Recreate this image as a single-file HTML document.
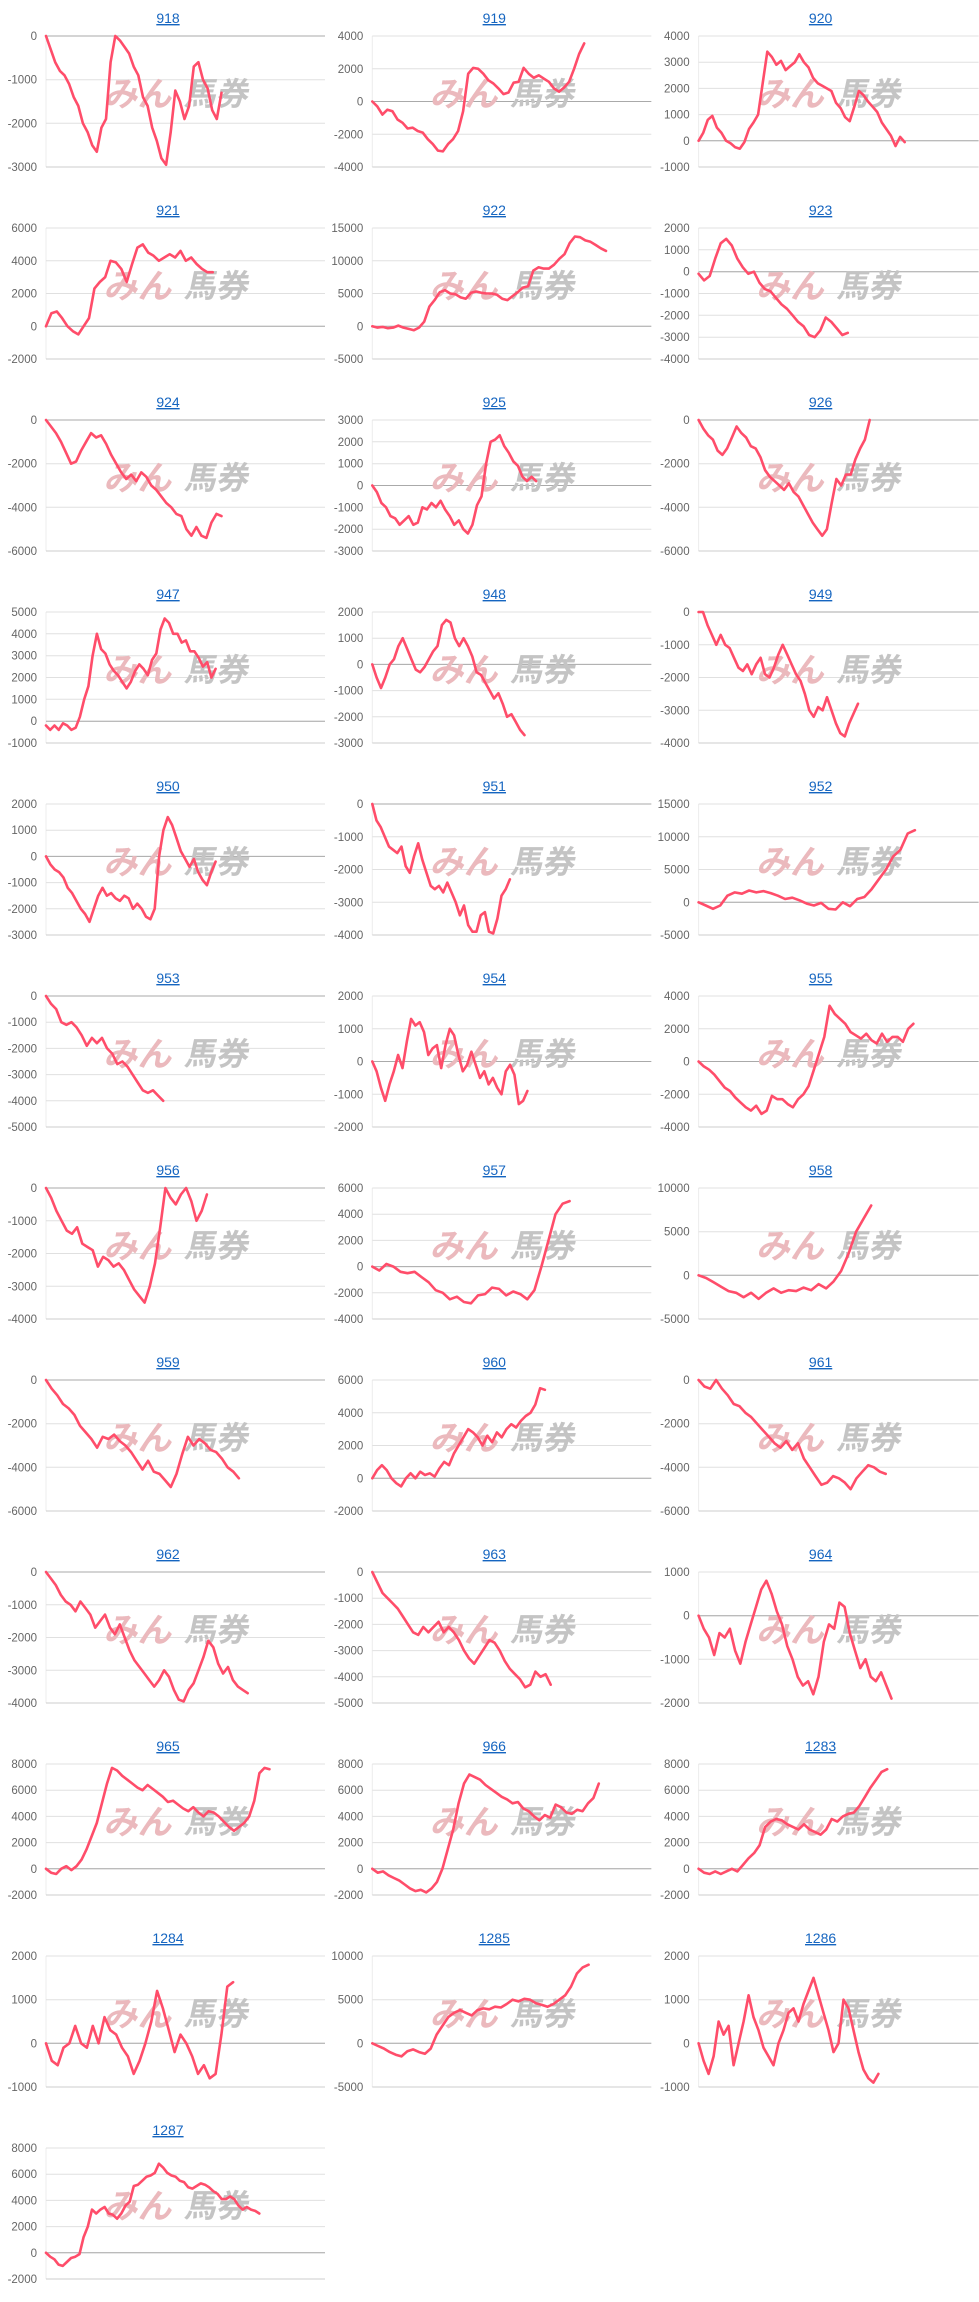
<!DOCTYPE html>
<html><head><meta charset="utf-8">
<style>
html,body{margin:0;padding:0;background:#fff;}
svg{display:block;}
.t{font-family:"Liberation Sans",Arial,sans-serif;font-size:14px;fill:#1565c0;text-anchor:middle;text-decoration:underline;}
.l{font-family:"Liberation Sans",Arial,sans-serif;font-size:11.5px;fill:#666;text-anchor:end;}
.wm1{font-family:"Liberation Sans","Noto Sans CJK JP",sans-serif;font-size:34px;font-weight:bold;fill:#ebb9bd;}
.wm2{font-family:"Liberation Sans","Noto Sans CJK JP",sans-serif;font-size:32px;font-weight:bold;fill:#c4c4c4;}
</style></head>
<body>
<svg id="s" width="979" height="2302" viewBox="0 0 979 2302" xmlns="http://www.w3.org/2000/svg">
<g id="c0"><text class="t">918</text><text class="l">0</text><text class="l">-1000</text><text class="l">-2000</text><text class="l">-3000</text></g>
<g id="c1"><text class="t">919</text><text class="l">4000</text><text class="l">2000</text><text class="l">0</text><text class="l">-2000</text><text class="l">-4000</text></g>
<g id="c2"><text class="t">920</text><text class="l">4000</text><text class="l">3000</text><text class="l">2000</text><text class="l">1000</text><text class="l">0</text><text class="l">-1000</text></g>
<g id="c3"><text class="t">921</text><text class="l">6000</text><text class="l">4000</text><text class="l">2000</text><text class="l">0</text><text class="l">-2000</text></g>
<g id="c4"><text class="t">922</text><text class="l">15000</text><text class="l">10000</text><text class="l">5000</text><text class="l">0</text><text class="l">-5000</text></g>
<g id="c5"><text class="t">923</text><text class="l">2000</text><text class="l">1000</text><text class="l">0</text><text class="l">-1000</text><text class="l">-2000</text><text class="l">-3000</text><text class="l">-4000</text></g>
<g id="c6"><text class="t">924</text><text class="l">0</text><text class="l">-2000</text><text class="l">-4000</text><text class="l">-6000</text></g>
<g id="c7"><text class="t">925</text><text class="l">3000</text><text class="l">2000</text><text class="l">1000</text><text class="l">0</text><text class="l">-1000</text><text class="l">-2000</text><text class="l">-3000</text></g>
<g id="c8"><text class="t">926</text><text class="l">0</text><text class="l">-2000</text><text class="l">-4000</text><text class="l">-6000</text></g>
<g id="c9"><text class="t">947</text><text class="l">5000</text><text class="l">4000</text><text class="l">3000</text><text class="l">2000</text><text class="l">1000</text><text class="l">0</text><text class="l">-1000</text></g>
<g id="c10"><text class="t">948</text><text class="l">2000</text><text class="l">1000</text><text class="l">0</text><text class="l">-1000</text><text class="l">-2000</text><text class="l">-3000</text></g>
<g id="c11"><text class="t">949</text><text class="l">0</text><text class="l">-1000</text><text class="l">-2000</text><text class="l">-3000</text><text class="l">-4000</text></g>
<g id="c12"><text class="t">950</text><text class="l">2000</text><text class="l">1000</text><text class="l">0</text><text class="l">-1000</text><text class="l">-2000</text><text class="l">-3000</text></g>
<g id="c13"><text class="t">951</text><text class="l">0</text><text class="l">-1000</text><text class="l">-2000</text><text class="l">-3000</text><text class="l">-4000</text></g>
<g id="c14"><text class="t">952</text><text class="l">15000</text><text class="l">10000</text><text class="l">5000</text><text class="l">0</text><text class="l">-5000</text></g>
<g id="c15"><text class="t">953</text><text class="l">0</text><text class="l">-1000</text><text class="l">-2000</text><text class="l">-3000</text><text class="l">-4000</text><text class="l">-5000</text></g>
<g id="c16"><text class="t">954</text><text class="l">2000</text><text class="l">1000</text><text class="l">0</text><text class="l">-1000</text><text class="l">-2000</text></g>
<g id="c17"><text class="t">955</text><text class="l">4000</text><text class="l">2000</text><text class="l">0</text><text class="l">-2000</text><text class="l">-4000</text></g>
<g id="c18"><text class="t">956</text><text class="l">0</text><text class="l">-1000</text><text class="l">-2000</text><text class="l">-3000</text><text class="l">-4000</text></g>
<g id="c19"><text class="t">957</text><text class="l">6000</text><text class="l">4000</text><text class="l">2000</text><text class="l">0</text><text class="l">-2000</text><text class="l">-4000</text></g>
<g id="c20"><text class="t">958</text><text class="l">10000</text><text class="l">5000</text><text class="l">0</text><text class="l">-5000</text></g>
<g id="c21"><text class="t">959</text><text class="l">0</text><text class="l">-2000</text><text class="l">-4000</text><text class="l">-6000</text></g>
<g id="c22"><text class="t">960</text><text class="l">6000</text><text class="l">4000</text><text class="l">2000</text><text class="l">0</text><text class="l">-2000</text></g>
<g id="c23"><text class="t">961</text><text class="l">0</text><text class="l">-2000</text><text class="l">-4000</text><text class="l">-6000</text></g>
<g id="c24"><text class="t">962</text><text class="l">0</text><text class="l">-1000</text><text class="l">-2000</text><text class="l">-3000</text><text class="l">-4000</text></g>
<g id="c25"><text class="t">963</text><text class="l">0</text><text class="l">-1000</text><text class="l">-2000</text><text class="l">-3000</text><text class="l">-4000</text><text class="l">-5000</text></g>
<g id="c26"><text class="t">964</text><text class="l">1000</text><text class="l">0</text><text class="l">-1000</text><text class="l">-2000</text></g>
<g id="c27"><text class="t">965</text><text class="l">8000</text><text class="l">6000</text><text class="l">4000</text><text class="l">2000</text><text class="l">0</text><text class="l">-2000</text></g>
<g id="c28"><text class="t">966</text><text class="l">8000</text><text class="l">6000</text><text class="l">4000</text><text class="l">2000</text><text class="l">0</text><text class="l">-2000</text></g>
<g id="c29"><text class="t">1283</text><text class="l">8000</text><text class="l">6000</text><text class="l">4000</text><text class="l">2000</text><text class="l">0</text><text class="l">-2000</text></g>
<g id="c30"><text class="t">1284</text><text class="l">2000</text><text class="l">1000</text><text class="l">0</text><text class="l">-1000</text></g>
<g id="c31"><text class="t">1285</text><text class="l">10000</text><text class="l">5000</text><text class="l">0</text><text class="l">-5000</text></g>
<g id="c32"><text class="t">1286</text><text class="l">2000</text><text class="l">1000</text><text class="l">0</text><text class="l">-1000</text></g>
<g id="c33"><text class="t">1287</text><text class="l">8000</text><text class="l">6000</text><text class="l">4000</text><text class="l">2000</text><text class="l">0</text><text class="l">-2000</text></g>
</svg>
<script>
(function(){
var D=[
[152,[0,-300,-600,-800,-900,-1100,-1400,-1600,-2000,-2200,-2500,-2650,-2100,-1900,-600,0,-100,-250,-400,-700,-900,-1400,-1600,-2100,-2400,-2800,-2950,-2200,-1250,-1500,-1900,-1600,-700,-600,-1000,-1200,-1700,-1900,-1300]],
[177,[0,-300,-800,-500,-600,-1100,-1300,-1650,-1600,-1800,-1900,-2300,-2600,-3000,-3050,-2600,-2300,-1800,-600,1700,2050,2000,1700,1300,1100,800,450,550,1150,1200,2050,1700,1450,1600,1400,1200,800,600,850,1200,2000,2900,3550]],
[173,[0,300,800,950,500,300,0,-100,-250,-300,-50,450,700,1000,2200,3400,3200,2900,3050,2700,2850,3000,3300,3000,2800,2400,2200,2100,2000,1900,1450,1250,900,750,1300,1900,1750,1500,1300,1100,700,450,200,-200,150,-50]],
[146,[0,800,900,500,0,-300,-500,0,500,2300,2700,3000,4000,3900,3500,2700,3800,4800,5000,4500,4300,4000,4200,4400,4200,4600,4000,4200,3800,3500,3300,3300]],
[192,[0,-200,-100,-300,-200,100,-200,-400,-600,-200,700,3000,4000,5200,5500,5000,4900,4400,4200,5100,5300,5100,5000,5000,4800,4200,4000,4600,5200,5900,6100,8500,9000,8800,8800,9400,10300,11000,12700,13700,13600,13100,12900,12400,11900,11500]],
[134,[-100,-400,-200,600,1300,1500,1200,600,200,-100,0,-500,-800,-900,-1200,-1500,-1700,-2000,-2300,-2500,-2900,-3000,-2700,-2100,-2300,-2600,-2900,-2800]],
[152,[0,-300,-600,-1000,-1500,-2000,-1900,-1400,-1000,-600,-800,-700,-1100,-1600,-2000,-2400,-2700,-2500,-2800,-2400,-2600,-3000,-3200,-3500,-3800,-4000,-4300,-4400,-5000,-5300,-4900,-5300,-5400,-4700,-4300,-4400]],
[144,[0,-300,-800,-1000,-1400,-1500,-1800,-1600,-1400,-1800,-1700,-1000,-1100,-800,-1000,-700,-1100,-1400,-1800,-1600,-2000,-2200,-1800,-900,-500,1000,2000,2100,2300,1800,1500,1100,900,400,200,400,200]],
[149,[0,-400,-700,-900,-1400,-1600,-1300,-800,-300,-600,-800,-1200,-1300,-1700,-2300,-2600,-2800,-3000,-3200,-2900,-3300,-3500,-3900,-4300,-4700,-5000,-5300,-5000,-3800,-2700,-3000,-2500,-2500,-1800,-1300,-900,0]],
[148,[-200,-400,-200,-400,-100,-200,-400,-300,200,1000,1600,3000,4000,3300,3100,2600,2300,2100,1800,1500,1800,2300,2600,2400,2100,2800,3100,4200,4700,4500,4000,4000,3600,3700,3200,3200,2900,2500,2700,2000,2400]],
[136,[0,-500,-900,-500,0,200,700,1000,600,200,-200,-300,-100,200,500,700,1500,1700,1600,1000,700,1000,700,300,-300,-400,-700,-1000,-1300,-1100,-1500,-2000,-1900,-2200,-2500,-2700]],
[141,[0,0,-400,-700,-1000,-700,-1000,-1100,-1400,-1700,-1800,-1600,-1900,-1600,-1400,-1900,-2000,-1700,-1300,-1000,-1300,-1600,-1900,-2100,-2500,-3000,-3200,-2900,-3000,-2600,-3000,-3400,-3700,-3800,-3400,-3100,-2800]],
[148,[0,-300,-500,-600,-800,-1200,-1400,-1700,-2000,-2200,-2500,-2000,-1500,-1200,-1500,-1400,-1600,-1700,-1500,-1600,-2000,-1800,-2000,-2300,-2400,-2000,0,1000,1500,1200,700,200,-100,-400,-100,-600,-900,-1100,-600,-200]],
[126,[0,-500,-700,-1000,-1300,-1400,-1500,-1300,-1900,-2100,-1600,-1200,-1700,-2100,-2500,-2600,-2500,-2700,-2400,-2700,-3000,-3400,-3100,-3700,-3900,-3900,-3400,-3300,-3900,-3950,-3500,-2800,-2600,-2300]],
[180,[0,-500,-1000,-500,1000,1500,1300,1800,1500,1700,1400,1000,500,700,300,-200,-500,-100,-1000,-1100,0,-600,500,800,2000,3500,5000,7000,8000,10500,11000]],
[112,[0,-300,-500,-1000,-1100,-1000,-1200,-1500,-1900,-1600,-1800,-1600,-2000,-2200,-2600,-2500,-2700,-3000,-3300,-3600,-3700,-3600,-3800,-4000]],
[138,[0,-300,-800,-1200,-700,-300,200,-200,600,1300,1100,1200,900,200,400,500,-200,500,1000,800,200,-300,-100,300,-100,-500,-300,-700,-500,-800,-1000,-300,-100,-400,-1300,-1200,-900]],
[179,[0,-300,-500,-800,-1200,-1600,-1800,-2200,-2500,-2800,-3000,-2700,-3200,-3000,-2100,-2300,-2300,-2600,-2800,-2300,-2000,-1500,-500,500,1500,3400,2900,2600,2300,1800,1600,1400,1700,1300,1100,1700,1200,1500,1500,1200,2000,2300]],
[142,[0,-300,-700,-1000,-1300,-1400,-1200,-1700,-1800,-1900,-2400,-2100,-2200,-2400,-2300,-2500,-2800,-3100,-3300,-3500,-3000,-2300,-1200,0,-300,-500,-200,0,-400,-1000,-700,-200]],
[167,[0,-300,200,0,-400,-500,-400,-800,-1200,-1800,-2000,-2500,-2300,-2700,-2800,-2200,-2100,-1600,-1700,-2200,-1900,-2100,-2500,-1800,0,2000,4000,4800,5000]],
[150,[0,-300,-800,-1300,-1800,-2000,-2500,-2000,-2700,-2000,-1500,-2000,-1700,-1800,-1400,-1700,-1000,-1500,-700,500,2500,5000,6500,8000]],
[164,[0,-400,-700,-1100,-1300,-1600,-2100,-2400,-2700,-3100,-2600,-2700,-2500,-2800,-3000,-3300,-3700,-4100,-3700,-4200,-4300,-4600,-4900,-4300,-3400,-2600,-3000,-2700,-2900,-3200,-3300,-3600,-4000,-4200,-4500]],
[150,[0,500,800,500,0,-300,-500,0,300,0,400,200,300,100,600,1000,800,1500,2000,2500,3000,2800,2500,2000,2600,2200,2800,2500,3000,3300,3100,3500,3800,4000,4500,5500,5400]],
[160,[0,-300,-400,0,-400,-700,-1100,-1200,-1500,-1700,-2000,-2300,-2600,-2900,-3100,-2800,-3200,-2900,-3600,-4000,-4400,-4800,-4700,-4400,-4500,-4700,-5000,-4500,-4200,-3900,-4000,-4200,-4300]],
[170,[0,-200,-400,-700,-900,-1000,-1200,-900,-1100,-1300,-1700,-1500,-1300,-1700,-1900,-1600,-2000,-2400,-2700,-2900,-3100,-3300,-3500,-3300,-3000,-3200,-3600,-3900,-3950,-3600,-3400,-3000,-2600,-2100,-2300,-2800,-3100,-2900,-3300,-3500,-3600,-3700]],
[154,[0,-400,-800,-1000,-1200,-1400,-1700,-2000,-2300,-2400,-2100,-2300,-2100,-1900,-2300,-2100,-2300,-2600,-3000,-3300,-3500,-3200,-2900,-2600,-2700,-3000,-3400,-3700,-3900,-4100,-4400,-4300,-3800,-4000,-3900,-4300]],
[164,[0,-300,-500,-900,-400,-500,-300,-800,-1100,-600,-200,200,600,800,500,100,-200,-700,-1000,-1400,-1600,-1500,-1800,-1400,-600,-200,-300,300,200,-400,-800,-1200,-1000,-1400,-1500,-1300,-1600,-1900]],
[185,[0,-300,-400,0,200,-100,200,700,1500,2500,3500,5000,6500,7700,7500,7100,6800,6500,6200,6000,6400,6100,5800,5500,5100,5200,4900,4600,4400,4700,4300,4000,4400,4300,4000,3600,3200,2900,3200,3500,4000,5200,7300,7700,7600]],
[187,[0,-300,-200,-500,-700,-900,-1200,-1500,-1700,-1600,-1800,-1500,-1000,0,1500,3000,5000,6500,7200,7000,6800,6400,6100,5800,5500,5300,5000,5100,4600,4400,4000,3700,4100,3900,4900,4700,4300,4200,4500,4400,5000,5400,6500]],
[161,[0,-300,-400,-200,-400,-200,0,-200,300,800,1200,1800,3200,3600,3800,3700,3400,3200,3000,3400,3000,2800,2600,3000,3800,3600,4000,4200,4300,4800,5500,6200,6800,7400,7600]],
[160,[0,-400,-500,-100,0,400,0,-100,400,0,600,300,200,-100,-300,-700,-400,0,500,1200,800,300,-200,200,0,-300,-700,-500,-800,-700,200,1300,1400]],
[180,[0,-300,-600,-1000,-1300,-1500,-900,-700,-1000,-1200,-600,1000,2000,3000,3500,3800,3500,3200,3800,4000,3900,4200,4100,4500,5000,4800,5100,5000,4600,4400,4200,4500,5000,5500,6500,8000,8700,9000]],
[155,[0,-400,-700,-300,500,200,400,-500,0,500,1100,600,300,-100,-300,-500,0,300,700,800,500,900,1200,1500,1100,700,300,-200,0,1000,800,300,-200,-600,-800,-900,-700]],
[178,[0,-300,-500,-900,-1000,-700,-400,-300,-100,1200,2000,3300,3000,3300,3500,3000,2900,2600,3000,3600,3900,5100,5200,5500,5800,5900,6100,6800,6500,6100,5900,5800,5500,5400,5000,4900,5100,5300,5200,5000,4700,4500,4100,4100,4300,4100,3600,3300,3500,3300,3200,3000]]
];
var NS="http://www.w3.org/2000/svg";
function el(n,a,p){var e=document.createElementNS(NS,n);for(var q in a)e.setAttribute(q,a[q]);p.appendChild(e);return e;}
for(var i=0;i<D.length;i++){
 var g=document.getElementById('c'+i);
 var c=i%3,r=Math.floor(i/3);
 g.setAttribute('transform','translate('+(c*326.3).toFixed(1)+','+(r*192)+')');
 var T=36,B=167,L=46,R=(c==2?326:325);
 var tt=g.querySelector('.t');tt.setAttribute('x',168);tt.setAttribute('y',23);
 var ls=g.querySelectorAll('.l'),n=ls.length;
 var tp=parseFloat(ls[0].textContent),bt=parseFloat(ls[n-1].textContent);
 var grid=document.createElementNS(NS,'g');g.insertBefore(grid,g.firstChild);
 el('line',{x1:L,y1:T,x2:L,y2:B,stroke:'#ececec','stroke-width':1},grid);
 var zy=null;
 for(var j=0;j<n;j++){
  var yy=T+j*(B-T)/(n-1);
  ls[j].setAttribute('x',37);ls[j].setAttribute('y',(yy+4).toFixed(1));
  if(parseFloat(ls[j].textContent)===0)zy=yy;
  el('line',{x1:L,y1:yy.toFixed(1),x2:R,y2:yy.toFixed(1),stroke:(j==n-1?'#cccccc':'#e0e0e0'),'stroke-width':1},grid);
 }
 if(zy!==null)el('line',{x1:L,y1:zy.toFixed(1),x2:R,y2:zy.toFixed(1),stroke:'#aaaaaa','stroke-width':1},grid);
 var w1=el('text',{x:106,y:106,'class':'wm1',transform:'skewX(-12) translate(20,0)'},grid);w1.textContent='みん';
 var w2=el('text',{x:186,y:105,'class':'wm2',transform:'skewX(-12) translate(20,0)'},grid);w2.textContent='馬券';
 var endx=D[i][0]*1.457,vals=D[i][1],m=vals.length,pts=[];
 for(var k=0;k<m;k++){
  var px=L+(endx-L)*k/(m-1);
  var py=T+(tp-vals[k])/(tp-bt)*(B-T);
  pts.push(px.toFixed(1)+','+py.toFixed(1));
 }
 el('polyline',{points:pts.join(' '),fill:'none',stroke:'#ff4d6a','stroke-width':2.6,'stroke-linejoin':'round','stroke-linecap':'round'},g);
}
})();
</script>
</body></html>
